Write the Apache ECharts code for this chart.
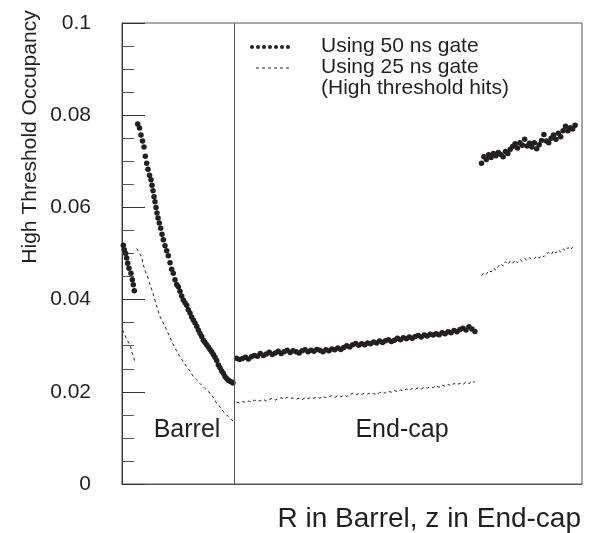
<!DOCTYPE html>
<html>
<head>
<meta charset="utf-8">
<script src="https://cdn.jsdelivr.net/npm/echarts@6/dist/echarts.min.js"></script>
<style>html,body{margin:0;padding:0;background:#fff;}#c{width:597px;height:533px;}</style>
</head>
<body>
<div id="c"></div>
<script>
// ---- Data (x in arbitrary R / z units, 0..460) ----
const yTicks = [0, 0.02, 0.04, 0.06, 0.08, 0.1];
const regionBoundary = 112.7;           // barrel | end-cap boundary
const regionLabels = ['Barrel', 'End-cap'];
const seriesNames = ['Using 50 ns gate', 'Using 25 ns gate', '(High threshold hits)'];

// 50 ns gate (dots)
const gate50BarrelInnerX = [1.3, 2.3, 3.7, 4.7, 5.7, 7, 9, 10.3, 11.3, 12.3];
const gate50BarrelInnerY = [0.0518, 0.0508, 0.0500, 0.0490, 0.0479, 0.0468, 0.0457, 0.0443, 0.0432, 0.0419];
const gate50BarrelX = [15.7, 17.5, 19, 20.5, 22, 23.3, 24.7, 26, 27.5, 29, 30, 31, 32, 33, 34, 35, 36, 37.3, 38.7, 40, 41.3, 43, 44.7, 46.3, 48, 49.7, 51.3, 53, 54.7, 56.3, 58, 59.7, 61.3, 63, 64.7, 66.3, 68, 69.7, 71.3, 73, 74.7, 76.3, 78, 79.7, 81.3, 83, 84.7, 86.3, 88, 89.7, 91.3, 93, 94.7, 96.3, 98, 99.7, 101.3, 103, 104.7, 106.3, 108, 109.7, 111];
const gate50BarrelY = [0.0781, 0.0772, 0.0757, 0.0744, 0.0731, 0.0711, 0.0696, 0.0683, 0.0670, 0.0660, 0.0648, 0.0636, 0.0623, 0.0612, 0.0600, 0.0588, 0.0577, 0.0566, 0.0555, 0.0542, 0.0530, 0.0517, 0.0506, 0.0495, 0.0480, 0.0466, 0.0457, 0.0443, 0.0433, 0.0428, 0.0418, 0.0408, 0.0399, 0.0393, 0.0388, 0.0378, 0.0371, 0.0362, 0.0356, 0.0349, 0.0342, 0.0334, 0.0327, 0.0320, 0.0312, 0.0307, 0.0302, 0.0297, 0.0292, 0.0287, 0.0281, 0.0275, 0.0268, 0.0258, 0.0252, 0.0245, 0.0240, 0.0233, 0.0229, 0.0225, 0.0223, 0.0221, 0.0219];
const gate50EndcapStart = 114.5, gate50EndcapStep = 2.98;
const gate50EndcapY = [0.0273, 0.0270, 0.0272, 0.0275, 0.0271, 0.0276, 0.0279, 0.0277, 0.0283, 0.0279, 0.0282, 0.0286, 0.0281, 0.0284, 0.0288, 0.0283, 0.0287, 0.0290, 0.0285, 0.0289, 0.0287, 0.0284, 0.0289, 0.0291, 0.0287, 0.0290, 0.0288, 0.0292, 0.0290, 0.0287, 0.0291, 0.0289, 0.0293, 0.0291, 0.0295, 0.0292, 0.0296, 0.0300, 0.0297, 0.0302, 0.0305, 0.0301, 0.0304, 0.0302, 0.0306, 0.0304, 0.0308, 0.0306, 0.0310, 0.0307, 0.0311, 0.0313, 0.0309, 0.0312, 0.0316, 0.0313, 0.0317, 0.0315, 0.0319, 0.0316, 0.0320, 0.0322, 0.0319, 0.0323, 0.0321, 0.0325, 0.0323, 0.0326, 0.0324, 0.0328, 0.0326, 0.0330, 0.0328, 0.0333, 0.0330, 0.0335, 0.0338, 0.0334, 0.0341, 0.0336, 0.0331];
const gate50Endcap2Start = 359.5, gate50Endcap2Step = 2.4;
const gate50Endcap2Y = [0.0696, 0.0710, 0.0704, 0.0714, 0.0708, 0.0717, 0.0712, 0.0719, 0.0715, 0.0710, 0.0721, 0.0717, 0.0726, 0.0732, 0.0738, 0.0729, 0.0740, 0.0735, 0.0748, 0.0733, 0.0739, 0.0731, 0.0740, 0.0727, 0.0736, 0.0745, 0.0758, 0.0744, 0.0740, 0.0750, 0.0757, 0.0748, 0.0761, 0.0753, 0.0766, 0.0776, 0.0766, 0.0773, 0.0770, 0.0778];

// 25 ns gate (dashed)
const gate25BarrelInnerX = [0.5, 2, 4, 5.5, 7, 8.5, 10, 11.5, 13];
const gate25BarrelInnerY = [0.0334, 0.0330, 0.0318, 0.0322, 0.0305, 0.0298, 0.0285, 0.0278, 0.0262];
const gate25BarrelX = [14.7, 16, 17.5, 19.7, 21, 23, 26.3, 28, 30, 33, 35.5, 38, 41, 44.7, 48, 51.3, 54.7, 58, 61.3, 64.7, 68, 71.3, 74.7, 78, 83, 88, 91.3, 94.7, 98, 101.3, 104.7, 107, 109.7, 111.5];
const gate25BarrelY = [0.0511, 0.0507, 0.0500, 0.0493, 0.0478, 0.0463, 0.0446, 0.0432, 0.0420, 0.0399, 0.0380, 0.0363, 0.0350, 0.0334, 0.0318, 0.0302, 0.0288, 0.0276, 0.0266, 0.0254, 0.0245, 0.0233, 0.0226, 0.0218, 0.0207, 0.0197, 0.0188, 0.0175, 0.0167, 0.0157, 0.0150, 0.0145, 0.0139, 0.0136];
const gate25EndcapStart = 114.5, gate25EndcapStep = 2.98;
const gate25EndcapY = [0.0178, 0.0176, 0.0179, 0.0177, 0.0180, 0.0178, 0.0182, 0.0179, 0.0181, 0.0184, 0.0180, 0.0183, 0.0186, 0.0182, 0.0185, 0.0187, 0.0184, 0.0188, 0.0185, 0.0187, 0.0184, 0.0186, 0.0183, 0.0187, 0.0185, 0.0188, 0.0186, 0.0189, 0.0186, 0.0190, 0.0187, 0.0189, 0.0192, 0.0188, 0.0191, 0.0189, 0.0193, 0.0190, 0.0194, 0.0197, 0.0193, 0.0196, 0.0194, 0.0197, 0.0195, 0.0198, 0.0196, 0.0194, 0.0198, 0.0200, 0.0197, 0.0201, 0.0199, 0.0203, 0.0200, 0.0204, 0.0202, 0.0206, 0.0203, 0.0207, 0.0205, 0.0209, 0.0206, 0.0210, 0.0208, 0.0211, 0.0209, 0.0213, 0.0210, 0.0215, 0.0212, 0.0216, 0.0213, 0.0218, 0.0215, 0.0219, 0.0216, 0.0221, 0.0218, 0.0223, 0.0221];
const gate25Endcap2Start = 359.5, gate25Endcap2Step = 2.4;
const gate25Endcap2Y = [0.0452, 0.0458, 0.0455, 0.0463, 0.0460, 0.0468, 0.0464, 0.0472, 0.0478, 0.0473, 0.0482, 0.0476, 0.0484, 0.0479, 0.0485, 0.0480, 0.0487, 0.0483, 0.0489, 0.0485, 0.0491, 0.0487, 0.0489, 0.0494, 0.0490, 0.0496, 0.0493, 0.0499, 0.0502, 0.0497, 0.0506, 0.0501, 0.0508, 0.0503, 0.0510, 0.0506, 0.0513, 0.0508, 0.0514, 0.0510];

// ---- Build ----
const zip = (xs, ys) => ys.map((y, i) => [xs[i], y]);
const reg = (x0, dx, ys) => ys.map((y, i) => [+(x0 + i * dx).toFixed(2), y]);

const dots = [].concat(
  zip(gate50BarrelInnerX, gate50BarrelInnerY),
  zip(gate50BarrelX, gate50BarrelY),
  reg(gate50EndcapStart, gate50EndcapStep, gate50EndcapY),
  reg(gate50Endcap2Start, gate50Endcap2Step, gate50Endcap2Y)
);
const gap = [null, null];
const dashes = [].concat(
  zip(gate25BarrelInnerX, gate25BarrelInnerY), [gap],
  zip(gate25BarrelX, gate25BarrelY), [gap],
  reg(gate25EndcapStart, gate25EndcapStep, gate25EndcapY), [gap],
  reg(gate25Endcap2Start, gate25Endcap2Step, gate25Endcap2Y)
);

const INK = '#231f20';
const FONT = '"Liberation Sans", Arial, sans-serif';
const chart = echarts.init(document.getElementById('c'), null, {renderer: 'canvas'});

const legendDots = [];
for (let i = 0; i < 7; i++) {
  legendDots.push({type: 'circle', shape: {cx: 252 + i * 6, cy: 47, r: 2}, style: {fill: INK}});
}

chart.setOption({
  animation: false,
  backgroundColor: '#fff',
  grid: {left: 122, right: 15, top: 23, bottom: 49, show: true, borderColor: '#555', borderWidth: 1},
  xAxis: {
    type: 'value', min: 0, max: 460,
    axisLine: {show: true, lineStyle: {color: '#555', width: 1}},
    axisTick: {show: false}, axisLabel: {show: false}, splitLine: {show: false}
  },
  yAxis: {
    type: 'value', min: 0, max: 0.1, interval: 0.02,
    axisLine: {show: true, lineStyle: {color: '#333', width: 1}},
    axisTick: {show: true, inside: true, length: 23, lineStyle: {color: '#333', width: 1}},
    minorTick: {show: true, splitNumber: 4, length: 12, lineStyle: {color: '#555', width: 1}},
    splitLine: {show: false},
    axisLabel: {
      margin: 31, fontSize: 21, color: INK, fontFamily: FONT,
      formatter: v => {
        const t = yTicks.find(k => Math.abs(k - v) < 1e-9);
        if (t === undefined) return '';
        if (t === 0) return '0';
        if (Math.abs(t - 0.1) < 1e-9) return '0.1';
        return t.toFixed(2);
      }
    }
  },
  series: [
    {
      name: seriesNames[0], type: 'scatter', data: dots,
      symbol: 'circle', symbolSize: 5.5, itemStyle: {color: INK, opacity: 1},
      markLine: {
        silent: true, symbol: ['none', 'none'], label: {show: false},
        lineStyle: {color: '#555', width: 1, type: 'solid'},
        data: [{xAxis: regionBoundary}]
      }
    },
    {
      name: seriesNames[1], type: 'line', data: dashes, connectNulls: false,
      showSymbol: false, symbol: 'none',
      lineStyle: {color: INK, width: 1, type: [3, 3]}
    }
  ],
  graphic: [
    {type: 'text', x: 30, y: 137, rotation: Math.PI / 2,
      style: {text: 'High Threshold Occupancy', font: '21px ' + FONT, fill: INK, textAlign: 'center', textVerticalAlign: 'middle'}},
    {type: 'text', x: 581, y: 519,
      style: {text: 'R in Barrel, z in End-cap', font: '28px ' + FONT, fill: INK, textAlign: 'right', textVerticalAlign: 'middle'}},
    {type: 'text', x: 187, y: 430,
      style: {text: regionLabels[0], font: '25px ' + FONT, fill: INK, textAlign: 'center', textVerticalAlign: 'middle'}},
    {type: 'text', x: 402, y: 430,
      style: {text: regionLabels[1], font: '25px ' + FONT, fill: INK, textAlign: 'center', textVerticalAlign: 'middle'}},
    {type: 'group', children: legendDots},
    {type: 'line', shape: {x1: 256, y1: 68, x2: 291, y2: 68}, style: {stroke: INK, lineWidth: 1, lineDash: [3, 3]}},
    {type: 'text', x: 321, y: 46, style: {text: seriesNames[0], font: '21px ' + FONT, fill: INK, textVerticalAlign: 'middle'}},
    {type: 'text', x: 321, y: 67, style: {text: seriesNames[1], font: '21px ' + FONT, fill: INK, textVerticalAlign: 'middle'}},
    {type: 'text', x: 321, y: 88, style: {text: seriesNames[2], font: '21px ' + FONT, fill: INK, textVerticalAlign: 'middle'}}
  ]
});
</script>
</body>
</html>
